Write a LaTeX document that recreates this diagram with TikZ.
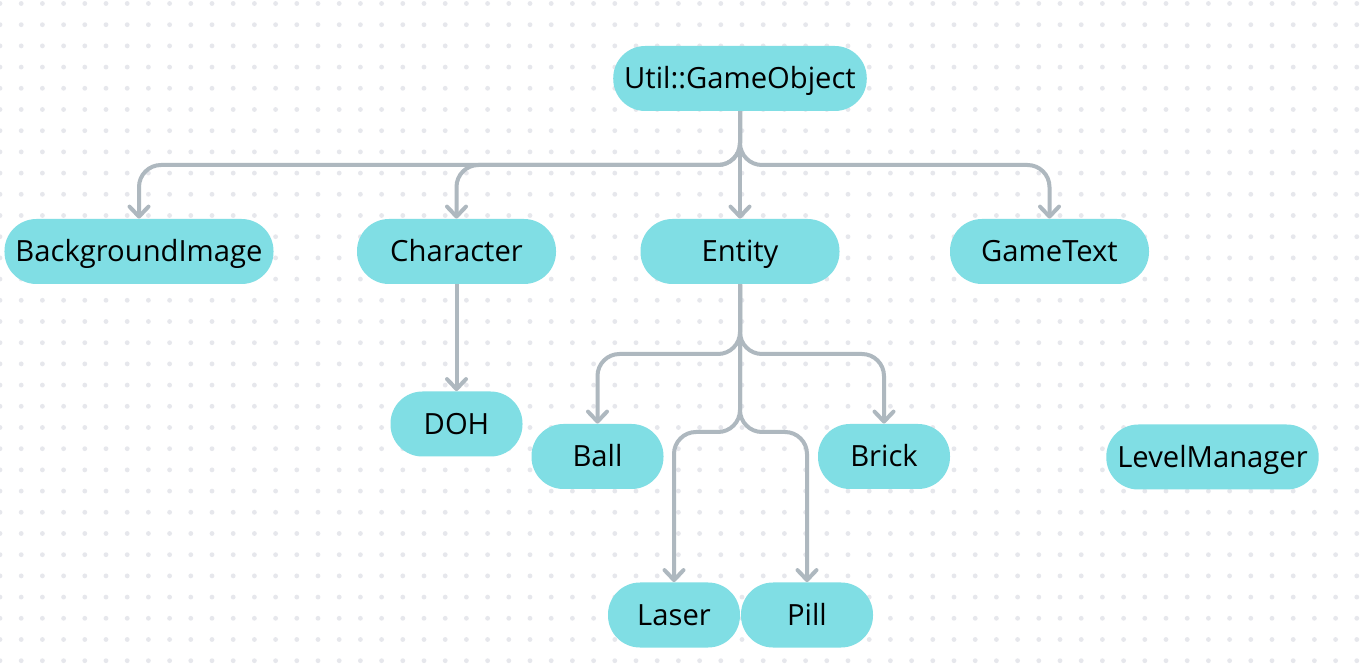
\documentclass[tikz,border=0pt]{standalone}
\usepackage{fontspec}
\setmainfont{Open Sans}
\usetikzlibrary{arrows.meta}
\definecolor{pillcyan}{HTML}{80DEE4}
\definecolor{linkgray}{HTML}{AEB8BF}
\definecolor{dotgray}{HTML}{E6E7EC}

\begin{document}
\begin{tikzpicture}[x=0.5pt, y=-0.5pt]
    % Define styles
    \tikzset{
        block/.style={fill=pillcyan, rounded corners=16pt, minimum height=32.5pt, inner xsep=5.5pt, text height=10.5pt, text depth=0pt, font=\fontsize{14.6}{16}\selectfont},
        small/.style={block, minimum width=66pt},
        medium/.style={block, minimum width=99.5pt},
        link/.style={draw=linkgray, line width=2pt, rounded corners=11pt, -{Straight Barb[length=5pt, width=9.5pt, line cap=round, line join=round]}}
    }

    % Background and dot grid
    \useasboundingbox (0,0) rectangle (1362,668);
    \fill[white] (0,0) rectangle (1362,668);
    \foreach \i in {0,...,64} {
        \foreach \j in {0,...,31} {
            \fill[dotgray] (21.2*\i, 3.5+21.2*\j) circle[radius=1.2pt];
        }
    }

    % Root
    \node[block] (go) at (740,78.5) {Util::GameObject};

    % Second level
    \node[block] (bg) at (139,251.5) {BackgroundImage};
    \node[medium] (char) at (456.5,251.5) {Character};
    \node[medium] (ent) at (740,251.5) {Entity};
    \node[medium] (gt) at (1049.5,251.5) {GameText};

    % Third level
    \node[small] (doh) at (456.5,424) {DOH};
    \node[small] (ball) at (597.5,456.5) {Ball};
    \node[small] (brick) at (884,456.5) {Brick};
    \node[block] (lm) at (1212.5,457) {LevelManager};

    % Fourth level
    \node[small] (laser) at (674,615) {Laser};
    \node[small] (pill) at (807,615) {Pill};

    % Bus lines
    \coordinate (bus) at (740,165);
    \coordinate (busent) at (740,354);
    \coordinate (buslow) at (740,432);

    % Arrows from root
    \draw[link] (go.south) -- (bus) -| (bg.north);
    \draw[link] (go.south) -- (bus) -| (char.north);
    \draw[link] (go.south) -- (ent.north);
    \draw[link] (go.south) -- (bus) -| (gt.north);

    % Arrows from Character
    \draw[link] (char.south) -- (doh.north);

    % Arrows from Entity
    \draw[link] (ent.south) -- (busent) -| (ball.north);
    \draw[link] (ent.south) -- (busent) -| (brick.north);
    \draw[link] (ent.south) -- (buslow) -| (laser.north);
    \draw[link] (ent.south) -- (buslow) -| (pill.north);

\end{tikzpicture}
\end{document}
